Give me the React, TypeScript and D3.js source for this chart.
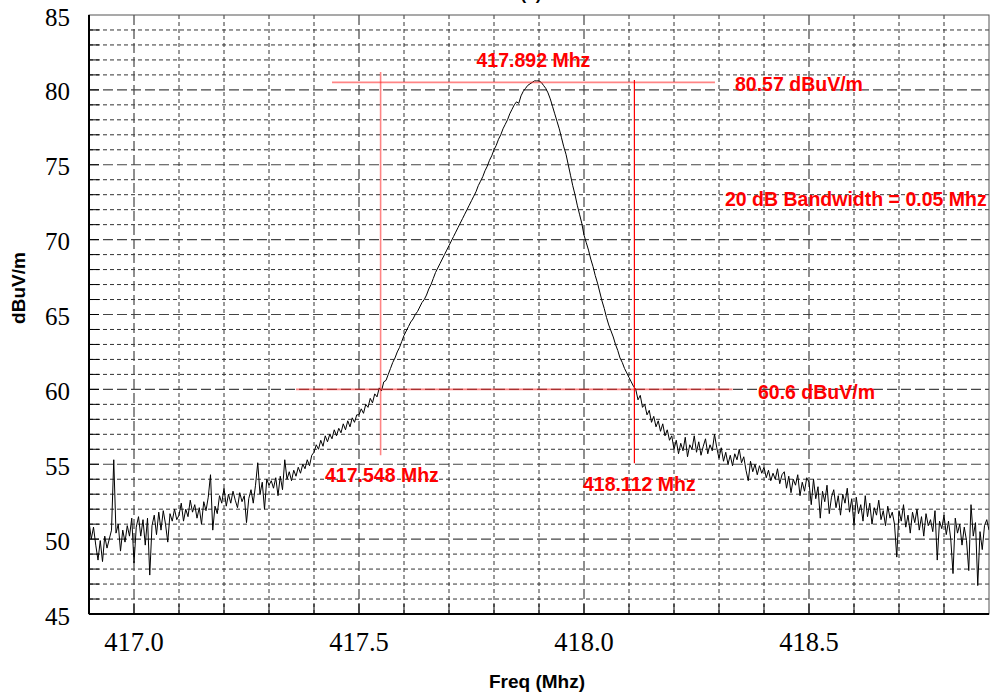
import React from 'react';
import * as d3 from 'd3';

const W = 991;
const H = 696;

// Sweep: start frequency and step (MHz)
const FREQ_START = 416.9;
const FREQ_STEP = 0.005;

// Measured level (dBuV/m), one value per sweep step
const LEVELS: number[] = [
  51.2, 50.0, 50.8, 49.6, 48.6, 49.9, 48.5, 50.2, 49.4, 50.0, 50.6, 55.3, 50.4, 51.0, 49.2, 50.6, 49.8, 50.9, 50.2, 51.4,
  48.4, 50.8, 51.5, 50.2, 51.3, 49.6, 51.4, 47.6, 50.9, 51.6, 50.3, 51.8, 50.6, 51.9, 51.0, 49.8, 51.7, 51.2, 52.0, 51.3,
  51.6, 52.4, 51.2, 52.0, 51.5, 52.6, 51.8, 52.3, 51.4, 52.1, 51.0, 52.5, 51.9, 52.8, 54.3, 50.6, 52.2, 51.7, 52.9, 52.4,
  53.4, 52.2, 53.0, 52.4, 53.2, 52.6, 52.1, 53.1, 52.5, 52.9, 51.1, 52.7, 53.3, 52.4, 53.6, 55.1, 53.0, 53.8, 52.0, 54.0,
  53.6, 53.9, 53.4, 54.1, 52.9, 54.2, 53.3, 55.3, 54.0, 54.5, 53.9, 54.6, 54.2, 54.8, 54.4, 55.0, 54.7, 55.3, 54.9, 55.6,
  55.8, 56.3, 56.0, 56.6, 56.2, 56.9, 56.5, 57.0, 56.7, 57.3, 56.9, 57.4, 57.1, 57.7, 57.3, 57.9, 57.5, 58.1, 57.8, 58.3,
  58.3, 58.7, 58.4, 59.0, 58.8, 59.4, 59.1, 59.7, 59.5, 60.1, 59.9, 60.5, 60.6, 61.0, 61.4, 61.8, 62.1, 62.5, 62.8, 63.2,
  63.6, 63.9, 64.2, 64.5, 64.7, 65.0, 65.2, 65.5, 65.8, 66.0, 66.3, 66.7, 67.0, 67.4, 67.8, 68.1, 68.4, 68.7, 69.0, 69.3,
  69.6, 69.9, 70.2, 70.5, 70.8, 71.1, 71.4, 71.7, 72.0, 72.3, 72.6, 72.9, 73.2, 73.6, 73.9, 74.2, 74.6, 74.9, 75.3, 75.6,
  76.0, 76.3, 76.7, 77.0, 77.4, 77.7, 78.0, 78.4, 78.7, 79.0, 79.2, 79.1, 79.6, 79.9, 80.1, 80.3, 80.4, 80.5, 80.6, 80.6,
  80.6, 80.5, 80.3, 80.1, 79.8, 79.4, 78.9, 78.4, 77.9, 77.4, 76.8, 76.2, 75.7, 75.0, 74.3, 73.6, 73.0, 72.3, 71.7, 71.1,
  70.3, 69.8, 69.3, 68.7, 68.2, 67.6, 67.1, 66.5, 65.9, 65.4, 64.8, 64.3, 63.9, 63.5, 63.0, 62.6, 62.1, 61.8, 61.4, 61.1,
  60.8, 60.5, 60.2, 60.0, 59.3, 59.6, 58.8, 59.0, 58.3, 58.6, 57.8, 58.2, 57.5, 57.9, 57.2, 57.7, 56.9, 57.3, 56.6, 56.9,
  56.0, 56.6, 55.7, 56.4, 55.9, 56.8, 55.5, 56.3, 56.0, 56.9, 55.8, 56.5, 55.6, 56.2, 56.7, 55.7, 56.3, 55.9, 57.0, 56.1,
  55.4, 56.1, 55.2, 55.8, 55.0, 55.6, 54.9, 55.7, 55.3, 56.0, 55.1, 55.5, 54.6, 53.9, 55.2, 54.5, 55.0, 54.3, 54.9, 54.4,
  54.8, 54.1, 54.6, 53.9, 54.4, 54.0, 54.7, 53.7, 54.3, 54.5, 53.4, 54.2, 53.1, 54.0, 53.6, 54.3, 52.9, 53.8, 53.2, 54.1,
  53.8, 52.3, 54.0, 52.7, 53.5, 51.4, 53.2, 52.5, 53.6, 51.7, 52.8, 53.3, 52.1, 52.9, 51.6, 53.0, 52.4, 53.4, 51.8, 52.7,
  50.9, 52.8, 51.7, 52.3, 51.2, 52.9, 51.5, 52.4, 51.0, 52.1, 51.6, 52.6, 51.3, 51.9, 50.9, 52.2, 51.4, 51.8, 51.0, 48.8,
  51.9, 51.2, 52.3, 50.8, 51.6, 50.4, 51.8, 51.1, 52.0, 50.6, 51.5, 50.2, 51.7, 50.9, 51.3, 50.5, 51.9, 48.6, 51.2, 50.7,
  51.6, 50.3, 51.2, 50.0, 47.7, 51.4, 50.4, 51.0, 49.6, 50.8, 49.9, 47.9, 52.3, 50.2, 51.1, 46.9, 50.5, 49.3, 50.9, 51.3, 50.6,
];

const X_DOMAIN = [416.9, 418.9];
const Y_DOMAIN = [45, 85];
const X_TICKS = [417.0, 417.5, 418.0, 418.5];
const Y_TICKS = [45, 50, 55, 60, 65, 70, 75, 80, 85];

// Markers
const PEAK_FREQ = 417.892;
const PEAK_LEVEL = 80.57;
const LOW_FREQ = 417.548;
const HIGH_FREQ = 418.112;
const REF_LEVEL = 60.6;
const BANDWIDTH = 0.05;

const TITLE = '(a)';
const X_LABEL = 'Freq (Mhz)';
const Y_LABEL = 'dBuV/m';

const L = 89, R = 989, T = 15, B = 614;

const sans = "'Liberation Sans', Arial, Helvetica, sans-serif";
const serif = "'Liberation Serif', 'DejaVu Serif', serif";

export default function App() {
  const x = d3.scaleLinear().domain(X_DOMAIN).range([L, R]);
  const y = d3.scaleLinear().domain(Y_DOMAIN).range([B, T]);

  const minorX = d3.range(1, 20).map((k) => 416.9 + k * 0.1).filter((f) => !X_TICKS.some((t) => Math.abs(t - f) < 1e-6));
  const minorY = d3.range(46, 85).filter((v) => v % 5 !== 0);
  const majorY = Y_TICKS.filter((v) => v !== 45 && v !== 85);
  const allTickX = d3.range(1, 20).map((k) => 416.9 + k * 0.1);
  const allTickY = d3.range(46, 85);

  const line = d3
    .line<number>()
    .x((_, i) => x(FREQ_START + i * FREQ_STEP))
    .y((d) => y(d));

  const redSoft = { stroke: '#ff2020', strokeOpacity: 0.55, strokeWidth: 1.6 };
  const red = '#ff0000';

  return (
    <svg width={W} height={H} style={{ position: 'absolute', left: 0, top: 0, background: '#fff' }}>
      <rect x={0} y={0} width={W} height={H} fill="#fff" />
      <defs>
        <clipPath id="plot">
          <rect x={L} y={T} width={R - L} height={B - T} />
        </clipPath>
      </defs>
      {/* minor grid */}
      {minorX.map((f) => (
        <line key={'mx' + f} x1={x(f)} x2={x(f)} y1={T} y2={B} stroke="#333" strokeWidth={1} strokeDasharray="4,3" />
      ))}
      {minorY.map((v) => (
        <line key={'my' + v} x1={L} x2={R} y1={y(v)} y2={y(v)} stroke="#333" strokeWidth={1} strokeDasharray="4,3" />
      ))}
      {/* major grid */}
      {X_TICKS.map((f) => (
        <line key={'Mx' + f} x1={x(f)} x2={x(f)} y1={T} y2={B} stroke="#444" strokeWidth={1.2} strokeDasharray="10,4" />
      ))}
      {majorY.map((v) => (
        <line key={'My' + v} x1={L} x2={R} y1={y(v)} y2={y(v)} stroke="#444" strokeWidth={1.2} strokeDasharray="10,4" />
      ))}
      {/* inward ticks */}
      {allTickX.map((f) => (
        <line key={'tx' + f} x1={x(f)} x2={x(f)} y1={B} y2={B - 10} stroke="#000" strokeWidth={1} />
      ))}
      {allTickY.map((v) => (
        <line key={'ty' + v} x1={L} x2={L + 10} y1={y(v)} y2={y(v)} stroke="#000" strokeWidth={1} />
      ))}
      {/* frame */}
      <rect x={L} y={T} width={R - L} height={B - T} fill="none" stroke="#555" strokeWidth={1} />
      <line x1={L} x2={L} y1={T} y2={B} stroke="#000" strokeWidth={2} />
      <line x1={L} x2={R} y1={B} y2={B} stroke="#000" strokeWidth={2} />

      {/* trace */}
      <g clipPath="url(#plot)">
        <path d={line(LEVELS) || ''} fill="none" stroke="#000" strokeWidth={1} strokeLinejoin="round" />
      </g>

      {/* marker lines */}
      <line x1={x(417.44)} x2={x(418.291)} y1={y(PEAK_LEVEL - 0.07)} y2={y(PEAK_LEVEL - 0.07)} {...redSoft} />
      <line x1={x(417.36)} x2={x(418.33)} y1={y(REF_LEVEL - 0.6)} y2={y(REF_LEVEL - 0.6)} {...redSoft} />
      <line x1={x(LOW_FREQ)} x2={x(LOW_FREQ)} y1={y(81.2)} y2={y(55.6)} {...redSoft} />
      <line x1={x(HIGH_FREQ)} x2={x(HIGH_FREQ)} y1={y(80.66)} y2={y(55.06)} stroke={red} strokeWidth={1.2} />

      {/* marker labels */}
      <g fill={red} style={{ fontFamily: sans, fontWeight: 'bold', fontSize: '19.5px' }}>
        <text x={x(PEAK_FREQ) - 2} y={67} textAnchor="middle">{PEAK_FREQ.toFixed(3)} Mhz</text>
        <text x={735} y={91}>{PEAK_LEVEL.toFixed(2)} dBuV/m</text>
        <text x={725} y={206}>20 dB Bandwidth = {BANDWIDTH.toFixed(2)} Mhz</text>
        <text x={758} y={399}>{REF_LEVEL.toFixed(1)} dBuV/m</text>
        <text x={325} y={482}>{LOW_FREQ.toFixed(3)} Mhz</text>
        <text x={583} y={491}>{HIGH_FREQ.toFixed(3)} Mhz</text>
      </g>

      {/* tick labels */}
      <g fill="#000">
        {Y_TICKS.map((v) => (
          <text key={'yl' + v} x={70} y={y(v) + 10.5} textAnchor="end" fontFamily="Liberation Serif" style={{ fontFamily: serif, fontSize: '25px' }}>{v}</text>
        ))}
        {X_TICKS.map((f) => (
          <text key={'xl' + f} x={x(f)} y={651} textAnchor="middle" fontFamily="Liberation Serif" style={{ fontFamily: serif, fontSize: '26.5px' }}>{f.toFixed(1)}</text>
        ))}
      </g>

      {/* axis titles */}
      <text x={(L + R) / 2 - 2} y={688} textAnchor="middle" style={{ fontFamily: sans, fontWeight: 'bold', fontSize: '19px' }}>{X_LABEL}</text>
      <text transform={`translate(25,288) rotate(-90)`} textAnchor="middle" style={{ fontFamily: sans, fontWeight: 'bold', fontSize: '19px' }}>{Y_LABEL}</text>
      <text x={531} y={-0.5} textAnchor="middle" style={{ fontFamily: sans, fontWeight: 'bold', fontSize: '17px' }}>{TITLE}</text>
    </svg>
  );
}
